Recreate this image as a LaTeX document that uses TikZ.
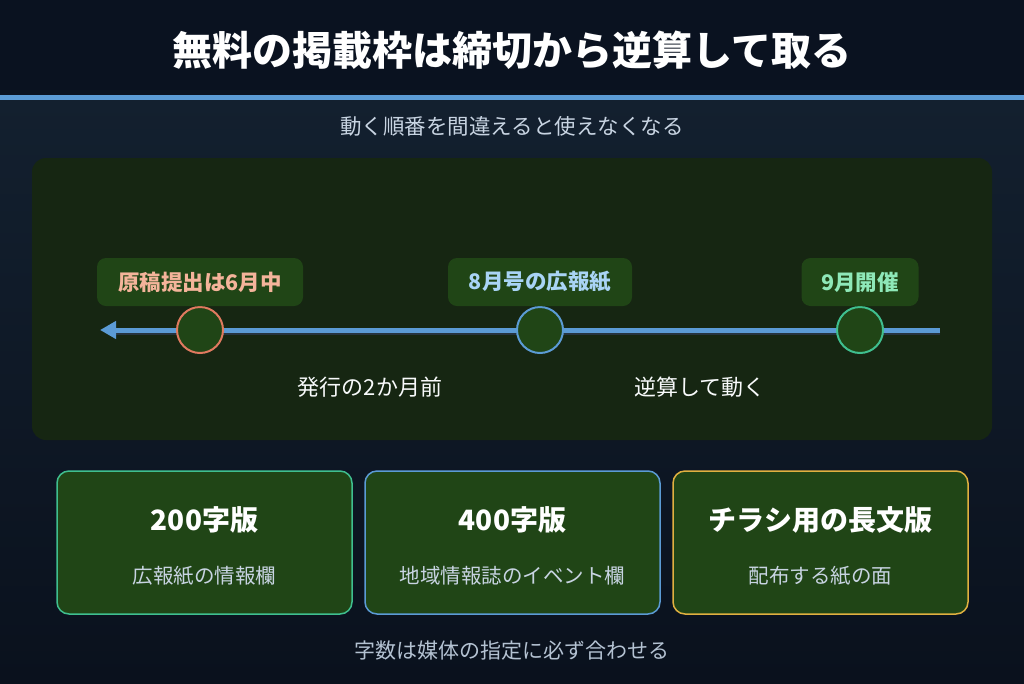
\documentclass[tikz,border=0pt]{standalone}
\usepackage{fontspec}
\setmainfont{Noto Sans CJK JP}
\newfontfamily\jp{Noto Sans CJK JP}
\usetikzlibrary{arrows.meta,shadings}
\definecolor{bgtop}{HTML}{0A1220}
\definecolor{bgmid}{HTML}{13202F}
\definecolor{bgbot}{HTML}{0A111D}
\definecolor{accent}{HTML}{5B9BD5}
\definecolor{panel}{HTML}{162612}
\definecolor{boxfill}{HTML}{204516}
\definecolor{coral}{HTML}{E07A5F}
\definecolor{coraltxt}{HTML}{F4B49A}
\definecolor{bluetxt}{HTML}{A9D4F5}
\definecolor{grn}{HTML}{3FBF8F}
\definecolor{grntxt}{HTML}{8EE8B8}
\definecolor{gold}{HTML}{E0B040}
\definecolor{subtxt}{HTML}{C8D4E2}
\definecolor{foot}{HTML}{B4C2D2}
\definecolor{shadowc}{HTML}{26343F}
\tikzset{
  lbl/.style={fill=boxfill, rounded corners=9pt, minimum height=48pt, inner xsep=16pt, font=\jp\bfseries\fontsize{21.5}{24}\selectfont},
  dot/.style={circle, fill=boxfill, line width=2pt, minimum size=46pt, inner sep=0pt},
  card/.style={fill=boxfill, rounded corners=12pt, line width=1.5pt, minimum width=295pt, minimum height=143pt},
  cardtitle/.style={text=white, font=\jp\bfseries\fontsize{28}{32}\selectfont},
  cardsub/.style={text=subtxt, font=\jp\fontsize{20.5}{24}\selectfont},
  note/.style={text=white!88!subtxt, font=\jp\fontsize{22}{26}\selectfont}
}
\begin{document}
\begin{tikzpicture}[x=1pt,y=-1pt]
\useasboundingbox (0,0) rectangle (1024,683);
\fill[bgtop] (0,0) rectangle (1024,96);
\shade[top color=bgmid, bottom color=bgbot] (0,96) rectangle (1024,683);
\fill[accent] (0,94.5) rectangle (1024,99.5);
\node[text=white, font=\jp\bfseries\fontsize{40}{46}\selectfont] (title) at (512,50) {無料の掲載枠は締切から逆算して取る};
\node[text=subtxt, font=\jp\fontsize{21.5}{25}\selectfont] (sub) at (512,126) {動く順番を間違えると使えなくなる};
\fill[panel, rounded corners=14pt] (32,158) rectangle (992,440);
% timeline
\coordinate (tend) at (940,330);
\coordinate (ttip) at (100,330);
\draw[shadowc, line width=5pt] (940,332.5) -- (114,332.5);
\draw[accent, line width=5pt, -{Triangle[length=16pt,width=17pt]}] (tend) -- (ttip);
\node[dot, draw=coral] (d1) at (200,330) {};
\node[dot, draw=accent] (d2) at (540,330) {};
\node[dot, draw=grn] (d3) at (860,330) {};
\node[lbl, text=coraltxt, minimum width=206pt] (l1) at (200,282) {原稿提出は6月中};
\node[lbl, text=bluetxt, minimum width=184pt] (l2) at (540,282) {8月号の広報紙};
\node[lbl, text=grntxt, minimum width=117pt] (l3) at (860,282) {9月開催};
\node[note] (n1) at (370,387) {発行の2か月前};
\node[note] (n2) at (700,387) {逆算して動く};
% cards
\node[card, draw=grn] (c1) at (204.5,542.5) {};
\node[card, draw=accent] (c2) at (512.5,542.5) {};
\node[card, draw=gold] (c3) at (820.5,542.5) {};
\node[cardtitle] (t1) at (204.5,520) {200字版};
\node[cardtitle] (t2) at (512.5,520) {400字版};
\node[cardtitle] (t3) at (820.5,520) {チラシ用の長文版};
\node[cardsub] (s1) at (204.5,576) {広報紙の情報欄};
\node[cardsub] (s2) at (512.5,576) {地域情報誌のイベント欄};
\node[cardsub] (s3) at (820.5,576) {配布する紙の面};
\node[text=foot, font=\jp\fontsize{21}{25}\selectfont] (ft) at (512,651) {字数は媒体の指定に必ず合わせる};
\end{tikzpicture}
\end{document}
